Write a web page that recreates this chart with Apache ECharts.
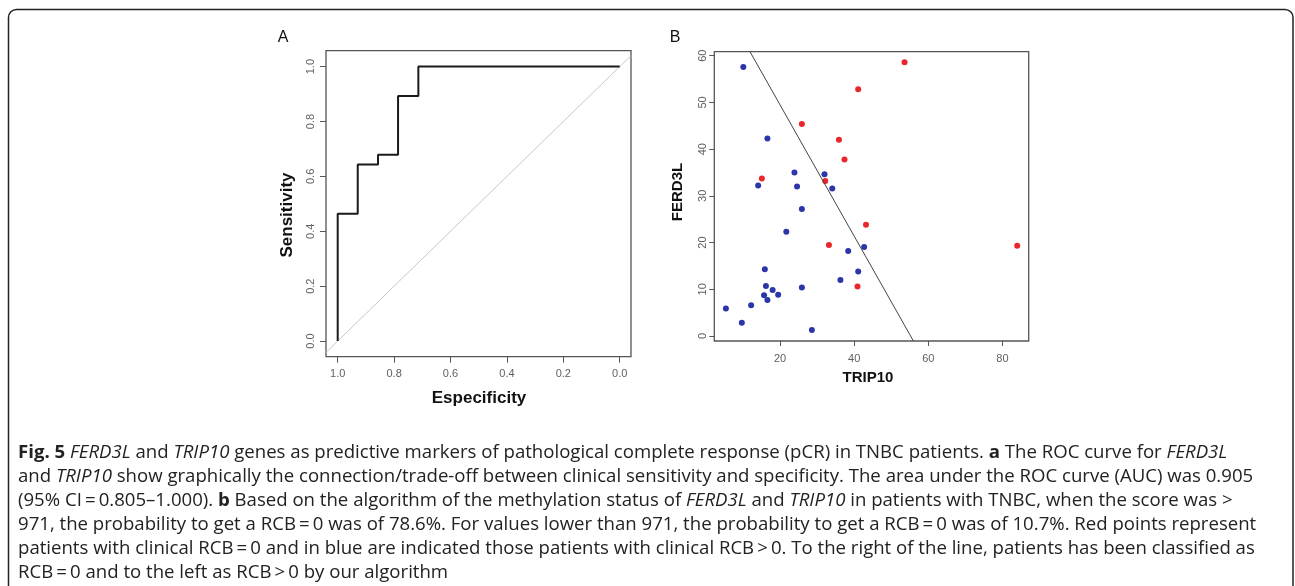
<!DOCTYPE html>
<html lang="en">
<head>
  <meta charset="UTF-8">
  <title>Fig. 5 FERD3L and TRIP10</title>
  <style>
    html, body { margin: 0; padding: 0; background: #fff; }
  </style>
</head>
<body>
  <div id="chart" style="width: 1295px;height: 586px;"></div>
</body>
<script src="https://cdn.jsdelivr.net/npm/echarts@6/dist/echarts.min.js"></script>
<script>
  // panel A: ROC curve corners (specificity, sensitivity)
  var rocSpec = [1.0, 1.0, 0.929, 0.929, 0.857, 0.857, 0.786, 0.786, 0.714, 0.714, 0.0];
  var rocSens = [0.0, 0.464, 0.464, 0.643, 0.643, 0.679, 0.679, 0.893, 0.893, 1.0, 1.0];
  var rocTicks = [0, 0.2, 0.4, 0.6, 0.8, 1.0];

  // panel B: TRIP10 (x) vs FERD3L (y)
  var redX = [53.6, 41.1, 25.9, 35.9, 37.4, 15.1, 32.2, 43.2, 33.2, 84.0, 40.9];
  var redY = [58.6, 52.8, 45.4, 42.0, 37.8, 33.7, 33.2, 23.8, 19.5, 19.3, 10.6];
  var blueX = [10.1, 16.6, 23.9, 32.0, 14.1, 24.6, 34.1, 25.9, 21.7, 42.7, 38.4, 15.9, 41.1, 36.3,
               16.2, 25.9, 18.0, 15.7, 19.5, 16.6, 12.2, 5.4, 9.7, 28.6];
  var blueY = [57.6, 42.3, 35.0, 34.6, 32.2, 32.0, 31.6, 27.2, 22.3, 19.05, 18.2, 14.3, 13.8, 12.0,
               10.7, 10.4, 9.85, 8.7, 8.85, 7.7, 6.6, 5.9, 2.85, 1.3];
  var cutX = [11.9, 56.0];
  var cutY = [60.86, -1.07];
  var trip10Ticks = [20, 40, 60, 80];
  var ferd3lTicks = [0, 10, 20, 30, 40, 50, 60];

  var captionLines = [
    '{b|Fig. 5} {i|FERD3L} and {i|TRIP10} genes as predictive markers of pathological complete response (pCR) in TNBC patients. {b|a} The ROC curve for {i|FERD3L}',
    'and {i|TRIP10} show graphically the connection/trade-off between clinical sensitivity and specificity. The area under the ROC curve (AUC) was 0.905',
    '(95% CI\u2009=\u20090.805\u20131.000). {b|b} Based on the algorithm of the methylation status of {i|FERD3L} and {i|TRIP10} in patients with TNBC, when the score was >',
    '971, the probability to get a RCB\u2009=\u20090 was of 78.6%. For values lower than 971, the probability to get a RCB\u2009=\u20090 was of 10.7%. Red points represent',
    'patients with clinical RCB\u2009=\u20090 and in blue are indicated those patients with clinical RCB\u2009>\u20090. To the right of the line, patients has been classified as',
    'RCB\u2009=\u20090 and to the left as RCB\u2009>\u20090 by our algorithm'
  ];

  var rocData = rocSpec.map(function (s, i) { return [s, rocSens[i]]; });
  var diagData = [[1.0415, 1 - 1.0415], [-0.04, 1.04]];
  var redData = redX.map(function (x, i) { return [x, redY[i]]; });
  var blueData = blueX.map(function (x, i) { return [x, blueY[i]]; });
  var cutData = cutX.map(function (x, i) { return [x, cutY[i]]; });

  var tickFont = 'Liberation Sans, Arial, sans-serif';
  var capFont = 'Open Sans, sans-serif';
  var capSize = 18.6;

  function axisBase(ticks, fmt, tickLen, margin, rotate, size) {
    return {
      type: 'value',
      axisLine: { show: false, onZero: false },
      splitLine: { show: false },
      axisTick: { show: true, length: tickLen, customValues: ticks, lineStyle: { color: '#555', width: 1 } },
      axisLabel: {
        customValues: ticks, color: '#606060', fontSize: size, fontFamily: tickFont,
        margin: margin, rotate: rotate, formatter: fmt
      }
    };
  }

  var xA = axisBase(rocTicks, function (v) { return v.toFixed(1); }, 6, 12, 0, 11);
  xA.gridIndex = 0; xA.min = -0.04; xA.max = 1.0415; xA.inverse = true;
  var yA = axisBase(rocTicks, function (v) { return v.toFixed(1); }, 6, 10, 90, 11);
  yA.gridIndex = 0; yA.min = -0.057; yA.max = 1.058;
  var xB = axisBase(trip10Ticks, function (v) { return String(v); }, 5, 12, 0, 11);
  xB.gridIndex = 1; xB.min = 2.27; xB.max = 87.1;
  var yB = axisBase(ferd3lTicks, function (v) { return String(v); }, 5, 6, 90, 11);
  yB.gridIndex = 1; yB.min = -1.07; yB.max = 60.86;

  var graphics = [
    { type: 'rect', shape: { x: 8.5, y: 9.5, width: 1284.5, height: 600, r: 8 },
      style: { fill: 'none', stroke: '#222', lineWidth: 1.5 }, z: 10 },
    { type: 'text', x: 283, y: 38, style: { text: 'A', font: '16px ' + tickFont, fill: '#111', align: 'center', verticalAlign: 'middle' } },
    { type: 'text', x: 675, y: 38, style: { text: 'B', font: '16px ' + tickFont, fill: '#111', align: 'center', verticalAlign: 'middle' } },
    { type: 'text', x: 287, y: 215, rotation: Math.PI / 2,
      style: { text: 'Sensitivity', font: 'bold 17px ' + tickFont, fill: '#111', align: 'center', verticalAlign: 'middle' } },
    { type: 'text', x: 479, y: 398,
      style: { text: 'Especificity', font: 'bold 17px ' + tickFont, fill: '#111', align: 'center', verticalAlign: 'middle' } },
    { type: 'text', x: 678, y: 192, rotation: Math.PI / 2,
      style: { text: 'FERD3L', font: 'bold 15px ' + tickFont, fill: '#111', align: 'center', verticalAlign: 'middle' } },
    { type: 'text', x: 868, y: 378,
      style: { text: 'TRIP10', font: 'bold 15px ' + tickFont, fill: '#111', align: 'center', verticalAlign: 'middle' } }
  ];

  var capRich = {
    b: { fontFamily: capFont, fontSize: capSize, fontWeight: 'bold', fill: '#222', color: '#222' },
    i: { fontFamily: capFont, fontSize: capSize, fontStyle: 'italic', fill: '#222', color: '#222' }
  };
  captionLines.forEach(function (line, k) {
    graphics.push({
      type: 'text', x: 18, y: 453 + 24 * k,
      style: {
        text: line, rich: capRich, fontFamily: capFont, fontSize: capSize, fill: '#222',
        align: 'left', verticalAlign: 'middle'
      }
    });
  });

  var myChart = echarts.init(document.getElementById('chart'));
  myChart.setOption({
    animation: false,
    backgroundColor: '#fff',
    grid: [
      { left: 326, top: 50.7, width: 305, height: 306, show: true, borderColor: '#555', borderWidth: 1.3, backgroundColor: 'transparent' },
      { left: 714.3, top: 51.7, width: 314.4, height: 289.3, show: true, borderColor: '#555', borderWidth: 1.3, backgroundColor: 'transparent' }
    ],
    xAxis: [xA, xB],
    yAxis: [yA, yB],
    series: [
      { type: 'line', xAxisIndex: 0, yAxisIndex: 0, data: diagData, symbol: 'none', clip: true,
        lineStyle: { color: '#c8c8c8', width: 1 } },
      { type: 'line', xAxisIndex: 0, yAxisIndex: 0, data: rocData, symbol: 'none',
        lineStyle: { color: '#1a1a1a', width: 2 } },
      { type: 'line', xAxisIndex: 1, yAxisIndex: 1, data: cutData, symbol: 'none', clip: true,
        lineStyle: { color: '#444', width: 1 } },
      { type: 'scatter', xAxisIndex: 1, yAxisIndex: 1, data: blueData, symbolSize: 6,
        itemStyle: { color: '#2b36a8', opacity: 1 } },
      { type: 'scatter', xAxisIndex: 1, yAxisIndex: 1, data: redData, symbolSize: 6,
        itemStyle: { color: '#e8262b', opacity: 1 } }
    ],
    graphic: graphics
  });
</script>
</html>
